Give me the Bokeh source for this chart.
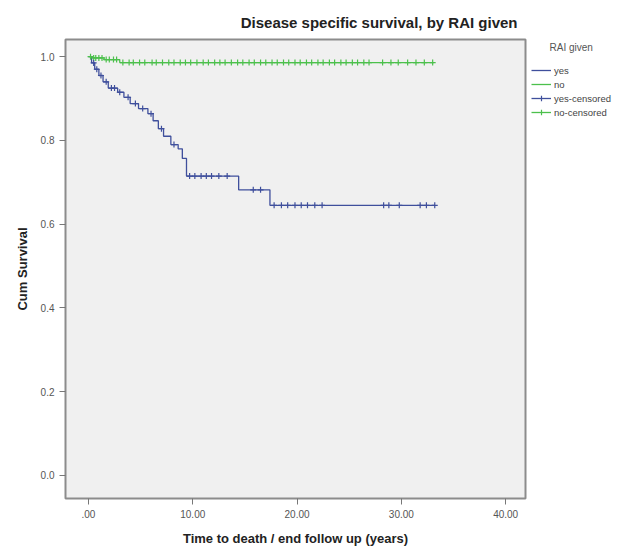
import numpy as np
from bokeh.plotting import figure
from bokeh.layouts import row
from bokeh.models import Range1d, Legend, LegendItem, FixedTicker, PrintfTickFormatter, Label
from bokeh.embed import file_html
from bokeh.resources import INLINE

# ---- data ----
title = "Disease specific survival, by RAI given"
x_label = "Time to death / end follow up (years)"
y_label = "Cum Survival"
legend_title = "RAI given"
x_ticks = [0, 10, 20, 30, 40]
y_ticks = [0.0, 0.2, 0.4, 0.6, 0.8, 1.0]

# RAI given = yes (blue): event times and survival after each event
yes_times = [0.3, 0.6, 1.0, 1.4, 1.9, 2.8, 3.4, 4.0, 4.8, 5.7, 6.2, 6.7, 7.2, 7.9, 8.6, 9.0, 9.4, 14.4, 17.4]
yes_surv = [0.985, 0.970, 0.955, 0.940, 0.925, 0.915, 0.903, 0.888, 0.876, 0.864, 0.847, 0.828, 0.810, 0.790, 0.780, 0.757, 0.715, 0.682, 0.645]
yes_end = 33.2
yes_censored = [0.5, 0.8, 1.2, 1.7, 2.2, 2.5, 3.0, 3.8, 4.5, 5.2, 6.0, 7.0, 8.2, 9.7, 10.2, 10.8,
                11.3, 11.8, 12.5, 13.3, 15.8, 16.5, 17.8, 18.5, 19.1, 19.8, 20.4, 21.0, 21.7, 22.4,
                28.3, 28.8, 29.8, 31.8, 32.4, 33.2]

# RAI given = no (green)
no_times = [0.4, 1.5, 3.0]
no_surv = [0.997, 0.993, 0.986]
no_end = 33.1
no_censored = [0.2, 0.5, 0.7, 1.0, 1.3, 1.7, 2.0, 2.4, 2.7, 3.3, 3.9, 4.3, 4.9, 5.4, 6.1, 6.5, 7.1,
               7.7, 8.2, 8.8, 9.3, 9.8, 10.4, 11.0, 11.5, 12.1, 12.6, 13.1, 13.7, 14.3, 14.8, 15.4,
               15.9, 16.5, 17.0, 17.6, 18.1, 18.7, 19.2, 19.8, 20.3, 20.9, 21.4, 22.0, 22.5, 23.1,
               23.6, 24.2, 24.7, 25.3, 25.8, 26.4, 26.9, 28.2, 29.0, 29.7, 30.6, 31.4, 32.2, 33.0]

BLUE = "#3f4f9c"
GREEN = "#4cc04c"
FONT = "Liberation Sans"


def step_xy(times, surv, end):
    xs = [0.0] + list(times) + [end]
    ys = [1.0] + list(surv) + [surv[-1]]
    return xs, ys


def level_at(times, surv, t):
    times = np.asarray(times)
    idx = np.searchsorted(times, t, side="right")
    levels = np.concatenate([[1.0], np.asarray(surv)])
    return levels[idx]


p = figure(width=527, height=550, output_backend="svg", toolbar_location=None,
           x_range=Range1d(-2.2, 41.9), y_range=Range1d(-0.055, 1.041),
           min_border_left=65, min_border_right=2, min_border_top=39, min_border_bottom=52,
           title=title)

p.background_fill_color = "#f0f0f0"
p.border_fill_color = "white"
p.outline_line_color = "#8c8c8c"
p.outline_line_width = 2
p.grid.visible = False

p.title.text_font = FONT
p.title.text_font_size = "15px"
p.title.text_font_style = "bold"
p.title.text_color = "#222222"
p.title.align = "right"
p.title.offset = 8
p.title.standoff = 18

for ax in (p.xaxis, p.yaxis):
    ax.axis_line_color = None
    ax.major_tick_line_color = "#777777"
    ax.minor_tick_line_color = None
    ax.major_tick_in = 0
    ax.major_tick_out = 6
    ax.major_label_text_font = FONT
    ax.major_label_text_font_size = "10px"
    ax.major_label_text_color = "#555555"
    ax.axis_label_text_font = FONT
    ax.axis_label_text_font_size = "13px"
    ax.axis_label_text_font_style = "bold"
    ax.axis_label_text_color = "#222222"

p.xaxis.ticker = FixedTicker(ticks=x_ticks)
p.xaxis.formatter = PrintfTickFormatter(format="%.2f")
p.xaxis.major_label_overrides = {0: ".00"}
p.xaxis.axis_label = x_label
p.xaxis.axis_label_standoff = 10
p.yaxis.ticker = FixedTicker(ticks=y_ticks)
p.yaxis.formatter = PrintfTickFormatter(format="%.1f")
p.yaxis.axis_label = y_label
p.yaxis.axis_label_standoff = 8

xs, ys = step_xy(no_times, no_surv, no_end)
p.step(xs, ys, mode="after", line_color=GREEN, line_width=1.3)
xs, ys = step_xy(yes_times, yes_surv, yes_end)
p.step(xs, ys, mode="after", line_color=BLUE, line_width=1.3)

p.scatter(no_censored, level_at(no_times, no_surv, no_censored), marker="cross",
          size=6, line_color=GREEN, line_width=1.2)
p.scatter(yes_censored, level_at(yes_times, yes_surv, yes_censored), marker="cross",
          size=6, line_color=BLUE, line_width=1.2)

# ---- legend panel (separate narrow figure to the right; its frame is aligned with p's) ----
q = figure(width=104, height=550, output_backend="svg", toolbar_location=None,
           x_range=Range1d(0, 1), y_range=Range1d(0, 1),
           min_border=0, x_axis_location=None, y_axis_location=None)
q.outline_line_color = None
q.grid.visible = False
q.background_fill_color = "white"
q.border_fill_color = "white"

nan = [np.nan]
l_yes = q.line(nan, nan, line_color=BLUE, line_width=1.3)
l_no = q.line(nan, nan, line_color=GREEN, line_width=1.3)
c_yes = q.scatter(nan, nan, marker="cross", size=6, line_color=BLUE, line_width=1.2)
c_no = q.scatter(nan, nan, marker="cross", size=6, line_color=GREEN, line_width=1.2)

legend = Legend(items=[
    LegendItem(label="yes", renderers=[l_yes]),
    LegendItem(label="no", renderers=[l_no]),
    LegendItem(label="yes-censored", renderers=[l_yes, c_yes]),
    LegendItem(label="no-censored", renderers=[l_no, c_no]),
], location=(4, 379))
legend.label_text_font = FONT
legend.label_text_font_size = "9.5px"
legend.label_text_color = "#444444"
legend.glyph_width = 20
legend.glyph_height = 14
legend.label_height = 14
legend.spacing = 0
legend.padding = 0
legend.margin = 0
legend.label_standoff = 3
legend.border_line_color = None
legend.background_fill_alpha = 0
q.add_layout(legend)

q.add_layout(Label(x=22, y=451, x_units="screen", y_units="screen", text=legend_title,
                   text_font=FONT, text_font_size="10px", text_color="#555555",
                   text_baseline="middle"))

open("out.html", "w").write(file_html(row(p, q), INLINE))
